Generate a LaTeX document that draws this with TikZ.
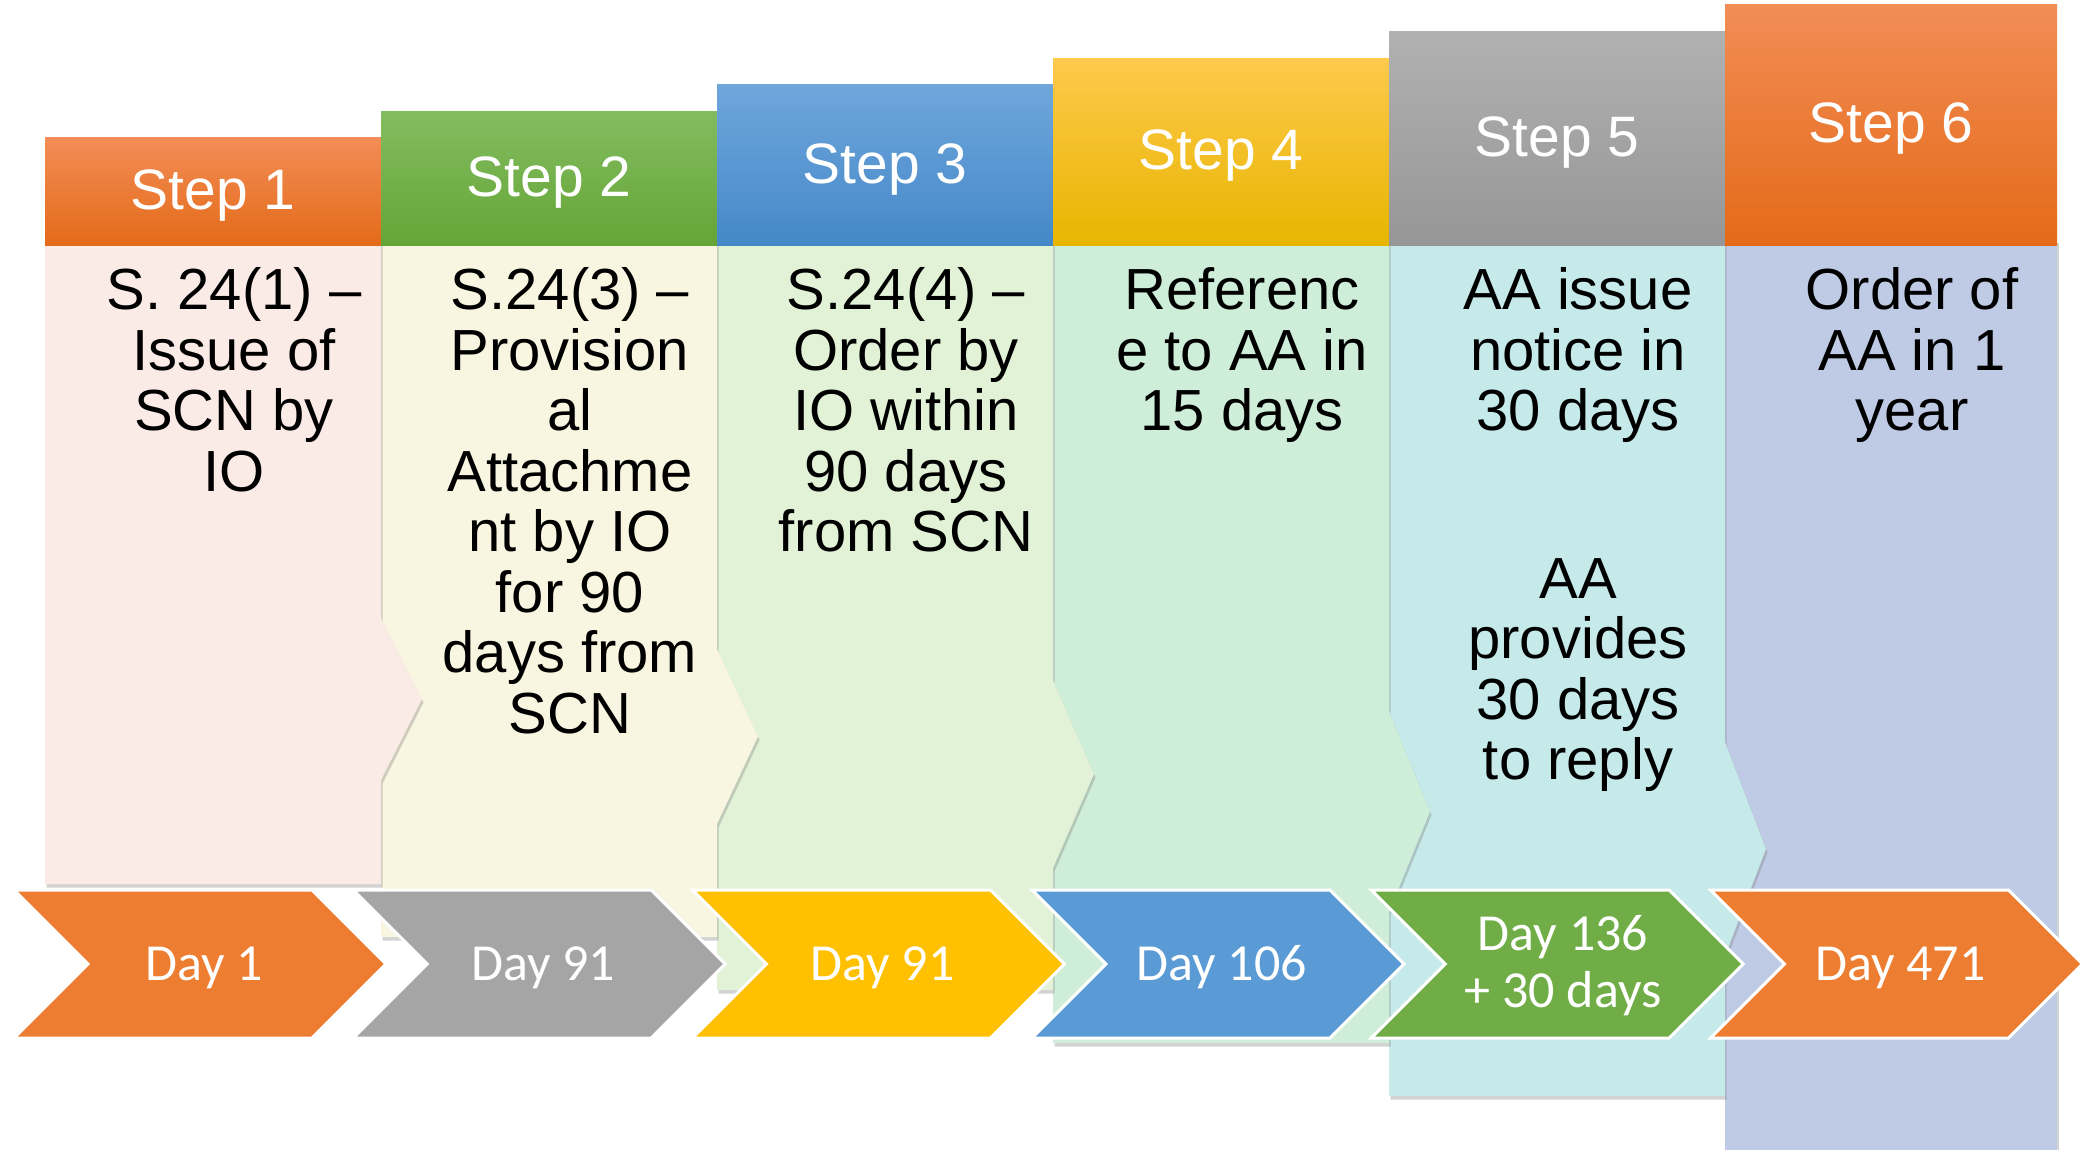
\documentclass[tikz,border=0pt]{standalone}
\usepackage{fontspec}
\setmainfont{Liberation Sans}
\newfontfamily\dayfont{Carlito}
\usetikzlibrary{shadows}
\definecolor{cOrange}{HTML}{ED7D31}
\definecolor{cGray}{HTML}{A5A5A5}
\definecolor{cYellow}{HTML}{FFC000}
\definecolor{cBlue}{HTML}{5B9BD5}
\definecolor{cGreen}{HTML}{70AD47}
\definecolor{hOt}{RGB}{242,141,86}
\definecolor{hOb}{RGB}{228,106,24}
\definecolor{hGt}{RGB}{131,188,96}
\definecolor{hGb}{RGB}{101,165,54}
\definecolor{hBt}{RGB}{111,166,220}
\definecolor{hBb}{RGB}{68,136,200}
\definecolor{hYt}{RGB}{255,201,76}
\definecolor{hYb}{RGB}{231,181,0}
\definecolor{hSt}{RGB}{177,177,177}
\definecolor{hSb}{RGB}{150,150,150}
\definecolor{bA}{RGB}{251,235,230}
\definecolor{bB}{RGB}{248,246,224}
\definecolor{bC}{RGB}{226,242,215}
\definecolor{bD}{RGB}{207,238,217}
\definecolor{bE}{RGB}{198,233,233}
\definecolor{bF}{RGB}{191,202,228}
\begin{document}
\begin{tikzpicture}[x=1pt,y=-1pt,
  hdr/.style={anchor=north west, inner sep=0pt, outer sep=0pt, minimum width=336pt},
  hdrtxt/.style={anchor=base, text=white, inner sep=0pt, font=\fontsize{57}{60}\selectfont},
  bodyshape/.style={drop shadow={shadow xshift=1.5pt, shadow yshift=-3.5pt, opacity=0.35}},
  bodytxt/.style={anchor=base, inner sep=0pt, text=black},
  chev/.style={draw=white, line width=3pt, line join=miter},
  daytxt/.style={anchor=base, text=white, inner sep=0pt, font=\dayfont\fontsize{52}{58}\selectfont}
]
\useasboundingbox (0,0) rectangle (2083,1150);
% bodies (drawn right to left so each protrusion lies over the next column)
\fill[bF, bodyshape] (1725,240) rectangle (2057,1150);
\fill[bE, bodyshape] (1389,240) -- (1725,240) -- (1725,742) -- (1766,849) -- (1725,956) -- (1725,1096) -- (1389,1096) -- cycle;
\fill[bD, bodyshape] (1053,240) -- (1389,240) -- (1389,711) -- (1430,811.5) -- (1389,912) -- (1389,1043) -- (1053,1043) -- cycle;
\fill[bC, bodyshape] (717,240) -- (1053,240) -- (1053,680) -- (1094,774) -- (1053,868) -- (1053,990) -- (717,990) -- cycle;
\fill[bB, bodyshape] (381,240) -- (717,240) -- (717,649) -- (758,736.5) -- (717,824) -- (717,937) -- (381,937) -- cycle;
\fill[bA, bodyshape] (45,240) -- (381,240) -- (381,618) -- (422,699) -- (381,780) -- (381,884) -- (45,884) -- cycle;
% headers
\node[hdr, minimum height=108pt, top color=hOt, bottom color=hOb] (h1) at (45,138) {};
\node[hdr, minimum height=134.6pt, top color=hGt, bottom color=hGb] (h2) at (381,111.4) {};
\node[hdr, minimum height=161.2pt, top color=hBt, bottom color=hBb] (h3) at (717,84.8) {};
\node[hdr, minimum height=187.8pt, top color=hYt, bottom color=hYb] (h4) at (1053,58.2) {};
\node[hdr, minimum height=214.4pt, top color=hSt, bottom color=hSb] (h5) at (1389,31.6) {};
\node[hdr, minimum height=241pt, minimum width=332pt, top color=hOt, bottom color=hOb] (h6) at (1725,5) {};
\node[hdrtxt] (s1) at (213,210) {Step 1};
\node[hdrtxt] (s2) at (549,197) {Step 2};
\node[hdrtxt] (s3) at (885,184) {Step 3};
\node[hdrtxt] (s4) at (1221,170) {Step 4};
\node[hdrtxt] (s5) at (1557,157) {Step 5};
\node[hdrtxt] (s6) at (1891,143) {Step 6};
% day chevrons
\fill[cOrange, chev] (14,890) -- (312,890) -- (386,964) -- (312,1038) -- (14,1038) -- (88,964) -- cycle;
\fill[cGray, chev] (353.3,890) -- (651.3,890) -- (725.3,964) -- (651.3,1038) -- (353.3,1038) -- (427.3,964) -- cycle;
\fill[cYellow, chev] (692.6,890) -- (990.6,890) -- (1064.6,964) -- (990.6,1038) -- (692.6,1038) -- (766.6,964) -- cycle;
\fill[cBlue, chev] (1031.9,890) -- (1329.9,890) -- (1403.9,964) -- (1329.9,1038) -- (1031.9,1038) -- (1105.9,964) -- cycle;
\fill[cGreen, chev] (1371.2,890) -- (1669.2,890) -- (1743.2,964) -- (1669.2,1038) -- (1371.2,1038) -- (1445.2,964) -- cycle;
\fill[cOrange, chev] (1710.5,890) -- (2008.5,890) -- (2082.5,964) -- (2008.5,1038) -- (1710.5,1038) -- (1784.5,964) -- cycle;
\node[daytxt] (d1) at (204,980) {Day 1};
\node[daytxt] (d2) at (543.3,980) {Day 91};
\node[daytxt] (d3) at (882.6,980) {Day 91};
\node[daytxt] (d4) at (1221.9,980) {Day 106};
\node[daytxt] (d5) at (1563,950) {\parbox[t]{250pt}{\centering\dayfont\fontsize{52}{57}\selectfont Day 136\\+ 30 days}};
\node[daytxt] (d6) at (1900.5,980) {Day 471};
% body texts
\node[bodytxt] (t1) at (234,310) {\parbox[t]{330pt}{\centering\fontsize{58}{60.5}\selectfont S. 24(1) –\\Issue of\\SCN by\\IO}};
\node[bodytxt] (t2) at (570,310) {\parbox[t]{330pt}{\centering\fontsize{58}{60.5}\selectfont S.24(3) –\\Provision\\al\\Attachme\\nt by IO\\for 90\\days from\\SCN}};
\node[bodytxt] (t3) at (906,310) {\parbox[t]{330pt}{\centering\fontsize{58}{60.5}\selectfont S.24(4) –\\Order by\\IO within\\90 days\\from SCN}};
\node[bodytxt] (t4) at (1242,310) {\parbox[t]{330pt}{\centering\fontsize{58}{60.5}\selectfont Referenc\\e to AA in\\15 days}};
\node[bodytxt] (t5a) at (1578,310) {\parbox[t]{330pt}{\centering\fontsize{58}{60.5}\selectfont AA issue\\notice in\\30 days}};
\node[bodytxt] (t5b) at (1578,598) {\parbox[t]{330pt}{\centering\fontsize{58}{60.5}\selectfont AA\\provides\\30 days\\to reply}};
\node[bodytxt] (t6) at (1912,310) {\parbox[t]{330pt}{\centering\fontsize{58}{60.5}\selectfont Order of\\AA in 1\\year}};
\end{tikzpicture}
\end{document}
